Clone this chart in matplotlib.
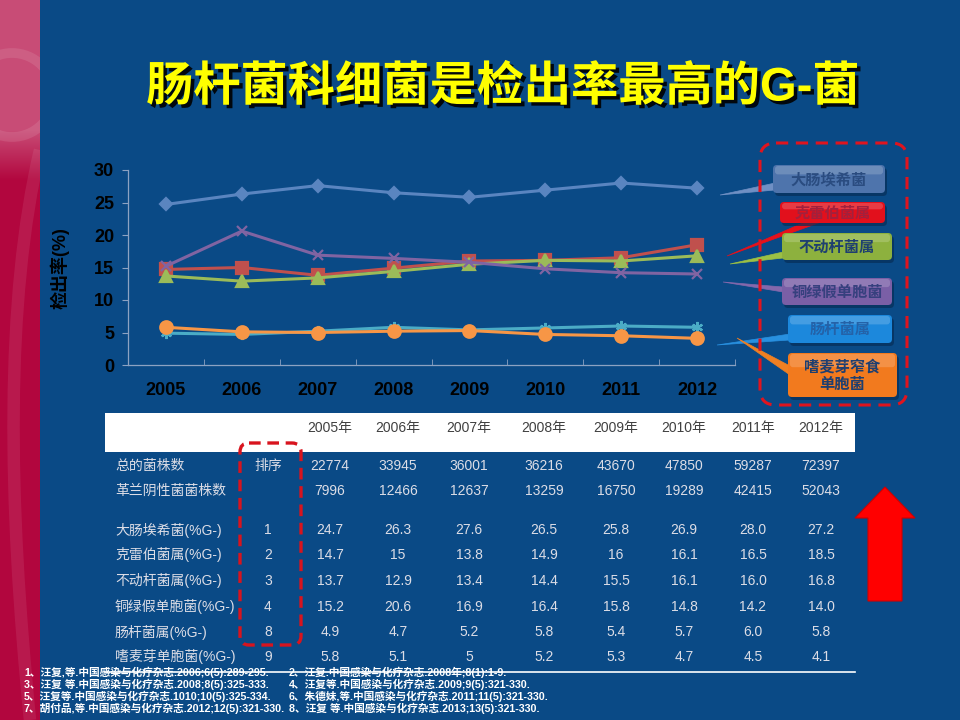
import numpy as np
import matplotlib
matplotlib.use("Agg")
import matplotlib.pyplot as plt
import matplotlib.patheffects as pe
from matplotlib.patches import FancyBboxPatch, Polygon, Rectangle, Circle
from matplotlib.path import Path
from matplotlib.patches import PathPatch

plt.rcParams['font.family'] = ['Liberation Sans', 'Noto Sans CJK SC', 'DejaVu Sans']

# data, as printed on the slide
years = ["2005", "2006", "2007", "2008", "2009", "2010", "2011", "2012"]
total_strains = ["22774", "33945", "36001", "36216", "43670", "47850", "59287", "72397"]
gneg_strains = ["7996", "12466", "12637", "13259", "16750", "19289", "42415", "52043"]

ecoli = ["24.7", "26.3", "27.6", "26.5", "25.8", "26.9", "28.0", "27.2"]
kleb = ["14.7", "15", "13.8", "14.9", "16", "16.1", "16.5", "18.5"]
acin = ["13.7", "12.9", "13.4", "14.4", "15.5", "16.1", "16.0", "16.8"]
paer = ["15.2", "20.6", "16.9", "16.4", "15.8", "14.8", "14.2", "14.0"]
entb = ["4.9", "4.7", "5.2", "5.8", "5.4", "5.7", "6.0", "5.8"]
steno = ["5.8", "5.1", "5", "5.2", "5.3", "4.7", "4.5", "4.1"]

ranks = ["1", "2", "3", "4", "8", "9"]
row_names = ["大肠埃希菌(%G-)", "克雷伯菌属(%G-)", "不动杆菌属(%G-)",
             "铜绿假单胞菌(%G-)", "肠杆菌属(%G-)", "嗜麦芽单胞菌(%G-)"]
legend_names = ["大肠埃希菌", "克雷伯菌属", "不动杆菌属", "铜绿假单胞菌",
                "肠杆菌属", "嗜麦芽窄食\n单胞菌"]

refs_left = ["1、汪复,等.中国感染与化疗杂志.2006;6(5):289-295.",
             "3、汪复 等.中国感染与化疗杂志.2008;8(5):325-333.",
             "5、汪复等.中国感染与化疗杂志.1010;10(5):325-334.",
             "7、胡付品,等.中国感染与化疗杂志.2012;12(5):321-330."]
refs_right = ["2、汪复.中国感染与化疗杂志.2008年;8(1):1-9.",
              "4、汪复等.中国感染与化疗杂志.2009;9(5):321-330.",
              "6、朱德妹,等.中国感染与化疗杂志.2011;11(5):321-330.",
              "8、汪复 等.中国感染与化疗杂志.2013;13(5):321-330."]

series = [ecoli, kleb, acin, paer, entb, steno]
colors = ["#5A85C0", "#C0504D", "#9BBB59", "#8064A2", "#4BACC6", "#F79646"]
markers = ["D", "s", "^", "x", (6, 2, 0), "o"]
msizes = [6, 8, 8, 7, 8, 9]

BG = "#0A4A86"
fig = plt.figure(figsize=(9.6, 7.2), dpi=100, facecolor=BG)

# background layer in pixel coordinates
bg = fig.add_axes([0, 0, 1, 1], zorder=0)
bg.set_axis_off()
strip = np.zeros((720, 1, 3))
top_c = np.array([0xC8, 0x4C, 0x76]) / 255
bot_c = np.array([0xB2, 0x06, 0x3E]) / 255
for i in range(720):
    t = np.clip((i - 130) / 50, 0, 1)
    strip[i, 0] = top_c * (1 - t) + bot_c * t
bg.imshow(strip, extent=[0, 40, 720, 0], aspect='auto')
clip = Rectangle((0, 0), 40, 720, transform=bg.transData)
ring = Circle((12, 95), 42, fill=False, ec="white", lw=7, alpha=0.1)
bg.add_patch(ring)
ring.set_clip_path(clip)
swoosh = PathPatch(Path([(40, 150), (5, 300), (8, 500), (30, 720)],
                        [Path.MOVETO, Path.CURVE4, Path.CURVE4, Path.CURVE4]),
                   fill=False, ec="white", lw=9, alpha=0.08)
bg.add_patch(swoosh)
swoosh.set_clip_path(clip)
bg.set_xlim(0, 960)
bg.set_ylim(720, 0)

# line chart
ax = fig.add_axes([128 / 960, 1 - 365 / 720, 607 / 960, 195 / 720], zorder=1)
ax.patch.set_alpha(0)
x = np.arange(len(years))
for vals, c, m, ms in zip(series, colors, markers, msizes):
    ax.plot(x, [float(v) for v in vals], color=c, marker=m, ms=ms, lw=2.2,
            mfc=c, mec=c, mew=1.6)
ax.set_xlim(-0.5, len(years) - 0.5)
ax.set_ylim(0, 30)
ax.set_yticks(range(0, 31, 5))
ax.set_xticks(x)
ax.set_xticklabels(years)
ax.set_xticks(np.arange(0.5, len(years)), minor=True)
for s in ["top", "right"]:
    ax.spines[s].set_visible(False)
for s in ["left", "bottom"]:
    ax.spines[s].set_color("#8CA2C2")
    ax.spines[s].set_linewidth(0.9)
ax.tick_params(axis="x", which="major", length=0, pad=12,
               labelsize=13, labelcolor="black")
ax.tick_params(axis="x", which="minor", direction="in", length=4, color="#8CA2C2")
ax.tick_params(axis="y", direction="out", length=4, color="#8CA2C2", pad=6,
               labelsize=13, labelcolor="black")
for lab in ax.get_xticklabels() + ax.get_yticklabels():
    lab.set_fontweight("bold")

# overlay layer in pixel coordinates
ov = fig.add_axes([0, 0, 1, 1], zorder=2)
ov.set_axis_off()
ov.patch.set_alpha(0)
ov.set_xlim(0, 960)
ov.set_ylim(720, 0)

ov.text(60, 268, "检出率(%)", rotation=90, ha="center", va="center",
        fontsize=13, fontweight="bold", color="black")

ov.text(503, 88, "肠杆菌科细菌是检出率最高的G-菌", ha="center", va="center",
        fontsize=34, fontweight="bold", color="#FFFF00",
        path_effects=[pe.withSimplePatchShadow(offset=(2.5, -2.5),
                                               shadow_rgbFace="black", alpha=0.9)])

# callout wedges
wedges = [[(720, 195), (775, 183), (775, 190)],
          [(727, 256), (812, 219), (824, 221)],
          [(730, 264), (783, 252), (783, 258)],
          [(723, 282), (783, 287), (783, 292)],
          [(717, 345), (790, 334), (790, 340)],
          [(737, 338), (790, 366), (790, 375)]]
wedge_cols = ["#7090C4", "#E8101A", "#9CC044", "#8468AC", "#2890E0", "#F08022"]
for pts, c in zip(wedges, wedge_cols):
    ov.add_patch(Polygon(pts, closed=True, fc=c, ec=c, lw=0.5, zorder=3))

# legend boxes
boxes = [(773, 165, 112, 28), (780, 202, 105, 21), (782, 233, 110, 27),
         (782, 278, 110, 27), (788, 315, 104, 28), (788, 353, 109, 44)]
box_cols = ["#4E74AC", "#E2101C", "#8DB13E", "#7A5FA6", "#1C88DC", "#F27A1E"]
text_cols = ["#2A4C80", "#A3203C", "#1E3F70", "#36407E", "#2462A8", "#1E3F70"]
for (bx, by, bw, bh), fc, tc, name in zip(boxes, box_cols, text_cols, legend_names):
    ov.add_patch(FancyBboxPatch((bx + 2, by + 3), bw, bh,
                                boxstyle="round,pad=0,rounding_size=4",
                                fc="#062E58", ec="none", alpha=0.7, zorder=4))
    ov.add_patch(FancyBboxPatch((bx, by), bw, bh,
                                boxstyle="round,pad=0,rounding_size=4",
                                fc=fc, ec="none", zorder=5))
    ov.add_patch(FancyBboxPatch((bx + 2, by + 1), bw - 4, bh * 0.3,
                                boxstyle="round,pad=0,rounding_size=3",
                                fc="white", ec="none", alpha=0.18, zorder=6))
    ov.text(bx + bw / 2, by + bh / 2 + 1, name, ha="center", va="center",
            fontsize=11, fontweight="bold", color=tc, linespacing=1.25, zorder=7)

ov.add_patch(FancyBboxPatch((760, 143), 147, 262,
                            boxstyle="round,pad=0,rounding_size=16",
                            fill=False, ec="#E0141E", lw=2.2, ls=(0, (4, 2.5)), zorder=8))

# table
ov.add_patch(Rectangle((105, 413), 750, 39, fc="white", ec="none", zorder=3))
col_x = [330, 398, 469, 544, 616, 684, 753, 821]
for cx, yr in zip(col_x, years):
    ov.text(cx, 428, yr + "年", ha="center", va="center", fontsize=10,
            color="#404040", zorder=4)

tcol = "#DCDDE6"
ov.text(115, 466, "总的菌株数", ha="left", va="center", fontsize=10, color=tcol)
ov.text(268, 466, "排序", ha="center", va="center", fontsize=10, color=tcol)
ov.text(115, 491, "革兰阴性菌菌株数", ha="left", va="center", fontsize=10, color=tcol)
for cx, a, b in zip(col_x, total_strains, gneg_strains):
    ov.text(cx, 466, a, ha="center", va="center", fontsize=10, color=tcol)
    ov.text(cx, 491, b, ha="center", va="center", fontsize=10, color=tcol)

row_y = [530, 555, 581, 607, 632, 657]
for ry, name, rk, vals in zip(row_y, row_names, ranks, series):
    ov.text(115, ry, name, ha="left", va="center", fontsize=10, color=tcol)
    ov.text(268, ry, rk, ha="center", va="center", fontsize=10, color=tcol)
    for cx, v in zip(col_x, vals):
        ov.text(cx, ry, v, ha="center", va="center", fontsize=10, color=tcol)

ov.add_patch(FancyBboxPatch((240, 443), 61, 202,
                            boxstyle="round,pad=0,rounding_size=9",
                            fill=False, ec="#D8141E", lw=2.4, ls=(0, (3.5, 2)), zorder=8))

ov.plot([105, 855], [672, 672], color="white", lw=1.2, zorder=9)

# red arrow
ov.add_patch(Polygon([(885, 487), (915, 518), (902, 518), (902, 601),
                      (868, 601), (868, 518), (855, 518)], closed=True,
                     fc="#FF0000", ec="#D00000", lw=0.8, zorder=5))

# references
ref_y = [672, 684, 696, 708]
for ry, l, r in zip(ref_y, refs_left, refs_right):
    ov.text(24, ry, l, ha="left", va="center", fontsize=7.7, fontweight="bold",
            color="white", zorder=10)
    ov.text(289, ry, r, ha="left", va="center", fontsize=7.7, fontweight="bold",
            color="white", zorder=10)

fig.savefig("out.png", dpi=100, facecolor=BG)
